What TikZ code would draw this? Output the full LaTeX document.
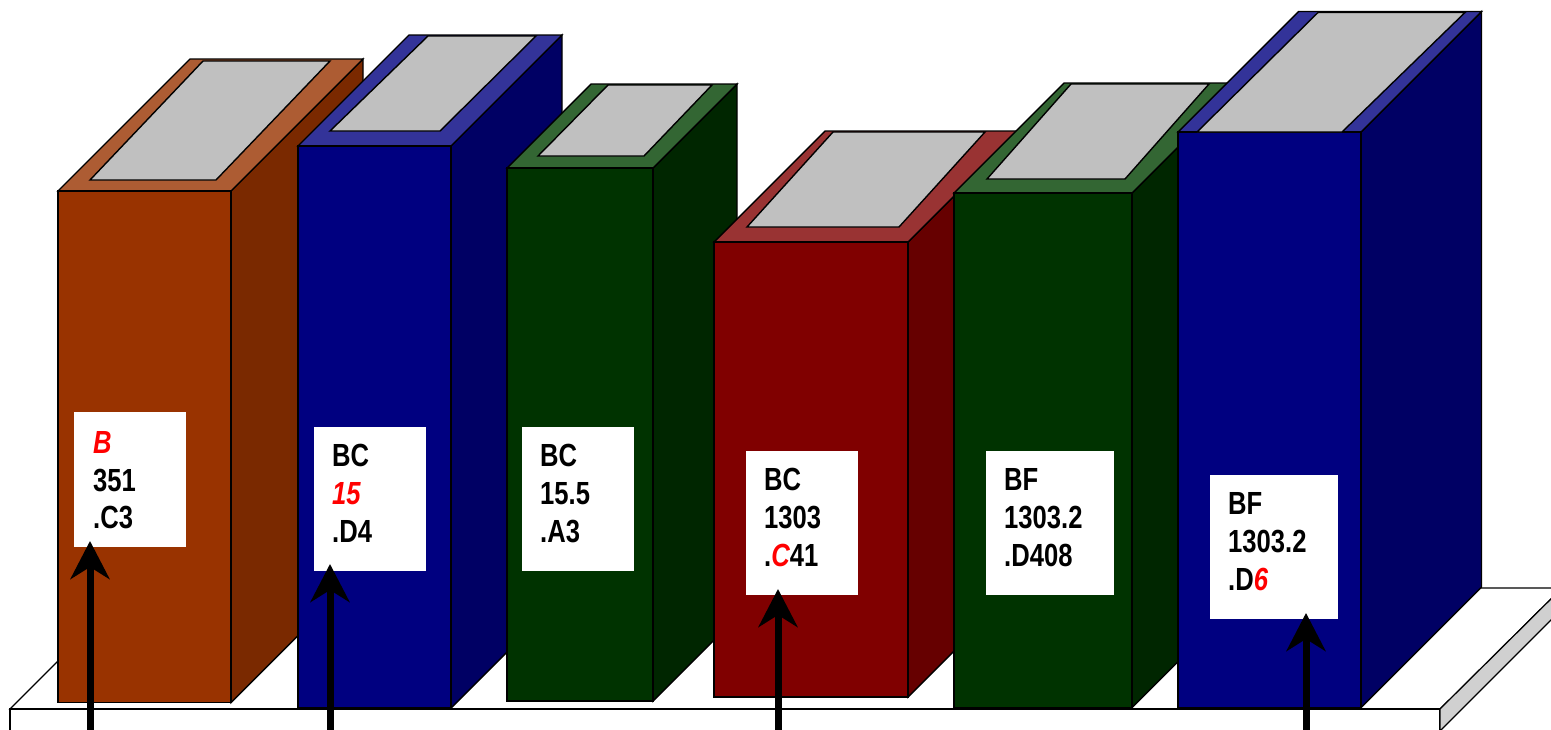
\documentclass[tikz,border=0pt]{standalone}
\usepackage{fontspec}
\newfontfamily\labfont[FakeStretch=0.8]{Liberation Sans}
\usetikzlibrary{arrows.meta,calc}
\definecolor{orfront}{RGB}{153,51,0}
\definecolor{orside}{RGB}{122,41,0}
\definecolor{orrim}{RGB}{173,92,51}
\definecolor{blfront}{RGB}{0,0,128}
\definecolor{blside}{RGB}{0,0,100}
\definecolor{blrim}{RGB}{51,51,153}
\definecolor{grfront}{RGB}{0,51,0}
\definecolor{grside}{RGB}{0,38,0}
\definecolor{grrim}{RGB}{51,102,51}
\definecolor{rdfront}{RGB}{128,0,0}
\definecolor{rdside}{RGB}{102,0,0}
\definecolor{rdrim}{RGB}{153,51,51}
\definecolor{pagegray}{RGB}{192,192,192}
\definecolor{shelfgray}{RGB}{208,208,208}
\definecolor{labred}{RGB}{255,0,0}
\newcommand{\drawbook}[6]{%
  \draw[edge, fill=#6side] (#2,#3) -- (#2+#5,#3-#5) -- (#2+#5,#4-#5) -- (#2,#4) -- cycle;
  \draw[edge, fill=#6rim] (#1,#3) -- (#1+#5,#3-#5) -- (#2+#5,#3-#5) -- (#2,#3) -- cycle;
  \draw[edge, fill=#6front] (#1,#3) rectangle (#2,#4);
}
\newcommand{\rt}[1]{\textcolor{labred}{\itshape #1}}
\tikzset{
  edge/.style={draw=black, line width=1.4pt, line join=miter},
  shelfedge/.style={draw=black, line width=1.2pt},
  pagesty/.style={edge, fill=pagegray},
  labelbox/.style={fill=white, inner sep=0pt, anchor=north west, minimum height=144pt},
  labtxt/.style={anchor=base west, inner sep=0pt, font=\labfont\bfseries\fontsize{32}{38}\selectfont},
  ptr/.style={line width=7pt, -{Stealth[length=38pt,width=39pt,inset=12pt]}}
}
\begin{document}
\begin{tikzpicture}[x=1pt,y=-1pt]
\useasboundingbox (0,0) rectangle (1551,729);
\clip (0,0) rectangle (1551,729);
% shelf
\draw[shelfedge, fill=white] (10,709) -- (1440,709) -- (1562,588) -- (131,588) -- cycle;
\draw[shelfedge, fill=white] (10,709) rectangle (1440,745);
\draw[shelfedge, fill=shelfgray] (1440,709) -- (1562,588) -- (1562,609) -- (1440,731) -- cycle;
% books
\drawbook{58}{231}{191}{702.5}{132}{or}
\draw[pagesty] (90,180) -- (216,180) -- (330,61) -- (203,61) -- cycle;
\drawbook{298}{451}{146}{708}{111}{bl}
\draw[pagesty] (330,131) -- (440,131) -- (536,36) -- (428,36) -- cycle;
\drawbook{507}{653}{168}{701}{84}{gr}
\draw[pagesty] (538,156) -- (644,156) -- (712,85) -- (608,85) -- cycle;
\drawbook{714}{908}{242}{697}{111}{rd}
\draw[pagesty] (747,227) -- (899,227) -- (985,132) -- (833,132) -- cycle;
\drawbook{954}{1132}{193}{707.5}{110}{gr}
\draw[pagesty] (987,179) -- (1125,179) -- (1209,84) -- (1071,84) -- cycle;
\drawbook{1178}{1361}{132}{707.5}{120.5}{bl}
\draw[pagesty] (1197,132) -- (1342,132) -- (1465,12.5) -- (1318,12.5) -- cycle;
% labels
\node[labelbox, minimum width=112pt, minimum height=135pt] (lab1) at (74,412) {};
\node[labelbox, minimum width=112pt] (lab2) at (314,427) {};
\node[labelbox, minimum width=112pt] (lab3) at (522,427) {};
\node[labelbox, minimum width=112pt] (lab4) at (746,451) {};
\node[labelbox, minimum width=128pt] (lab5) at (986,451) {};
\node[labelbox, minimum width=128pt] (lab6) at (1210,475) {};
\node[labtxt] (t1a) at ($(lab1.north west)+(19,41)$) {\rt{B}};
\node[labtxt] (t1b) at ($(lab1.north west)+(19,79)$) {351};
\node[labtxt] (t1c) at ($(lab1.north west)+(19,116)$) {.C3};
\node[labtxt] (t2a) at ($(lab2.north west)+(18,39.5)$) {BC};
\node[labtxt] (t2b) at ($(lab2.north west)+(18,77.5)$) {\rt{15}};
\node[labtxt] (t2c) at ($(lab2.north west)+(18,115.5)$) {.D4};
\node[labtxt] (t3a) at ($(lab3.north west)+(18,39)$) {BC};
\node[labtxt] (t3b) at ($(lab3.north west)+(18,77)$) {15.5};
\node[labtxt] (t3c) at ($(lab3.north west)+(18,115)$) {.A3};
\node[labtxt] (t4a) at ($(lab4.north west)+(18,39)$) {BC};
\node[labtxt] (t4b) at ($(lab4.north west)+(18,77)$) {1303};
\node[labtxt] (t4c) at ($(lab4.north west)+(18,115)$) {.\rt{C}41};
\node[labtxt] (t5a) at ($(lab5.north west)+(18,39)$) {BF};
\node[labtxt] (t5b) at ($(lab5.north west)+(18,77)$) {1303.2};
\node[labtxt] (t5c) at ($(lab5.north west)+(18,115)$) {.D408};
\node[labtxt] (t6a) at ($(lab6.north west)+(18,39)$) {BF};
\node[labtxt] (t6b) at ($(lab6.north west)+(18,77)$) {1303.2};
\node[labtxt] (t6c) at ($(lab6.north west)+(18,115)$) {.D\rt{6}};
% arrows
\coordinate (s1) at (90,745);
\coordinate (p1) at (90,541);
\coordinate (s2) at (330,745);
\coordinate (p2) at (330,564);
\coordinate (s3) at (778,745);
\coordinate (p3) at (778,589);
\coordinate (s4) at (1306,745);
\coordinate (p4) at (1306,613);
\draw[ptr] (s1) -- (p1);
\draw[ptr] (s2) -- (p2);
\draw[ptr] (s3) -- (p3);
\draw[ptr] (s4) -- (p4);
\end{tikzpicture}
\end{document}
